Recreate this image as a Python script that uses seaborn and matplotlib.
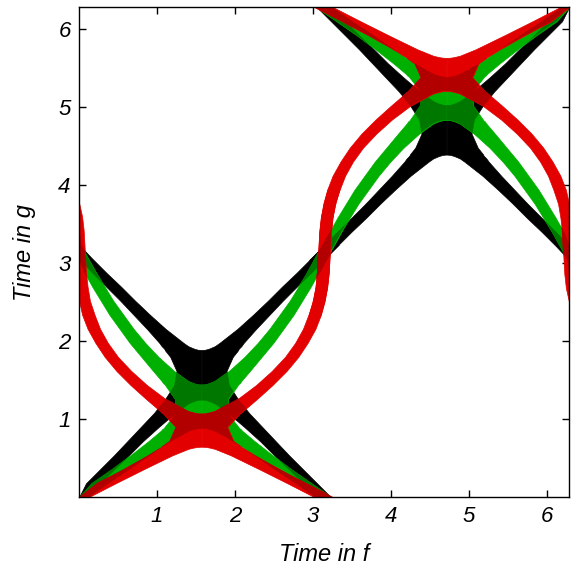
import numpy as np
import matplotlib
matplotlib.use('Agg')
import matplotlib.pyplot as plt
import seaborn as sns

# the other three quarters are mirror images of it
black_t = [0, 0.18, 0.36, 0.54, 0.72, 0.9, 1.08, 1.204, 1.234, 1.249, 1.254, 1.44, 1.62, 1.8, 1.888, 1.893, 1.908,
           1.938, 1.98, 2.16, 2.34, 2.52, 2.7, 2.88, 3.06, 3.24]
black_lo = [-0.09, 0.09, 0.27, 0.45, 0.62, 0.79, 0.96, 1.06, 1.09, 1.1, 1.1, 1.22, 1.25, 1.17, 1.1, 1.1, 1.09, 1.06,
            1.03, 0.87, 0.7, 0.53, 0.35, 0.17, -0.01, -0.19]
black_hi = [0.09, 0.27, 0.45, 0.64, 0.82, 1.02, 1.23, 1.4, 1.47, 1.52, 1.57, 1.57, 1.57, 1.57, 1.57, 1.52, 1.47, 1.4,
            1.34, 1.11, 0.91, 0.72, 0.54, 0.35, 0.17, -0.01]

green_t = [0, 0.18, 0.36, 0.54, 0.72, 0.854, 0.877, 0.889, 0.893, 1.08, 1.26, 1.444, 1.448, 1.462, 1.491, 1.62, 1.8,
           1.98, 2.16, 2.34, 2.52, 2.7, 2.88, 3.06, 3.24, 3.42]
green_lo = [-0.1, 0.16, 0.42, 0.66, 0.89, 1.05, 1.07, 1.09, 1.09, 1.24, 1.23, 1.1, 1.1, 1.08, 1.06, 0.95, 0.8, 0.65,
            0.52, 0.39, 0.28, 0.17, 0.07, -0.03, -0.13, -0.23]
green_hi = [0.1, 0.36, 0.63, 0.89, 1.16, 1.4, 1.47, 1.52, 1.57, 1.57, 1.57, 1.57, 1.52, 1.47, 1.4, 1.22, 1.02, 0.85,
            0.7, 0.57, 0.44, 0.33, 0.22, 0.12, 0.02, -0.08]

red_t = [0, 0.18, 0.36, 0.54, 0.621, 0.638, 0.646, 0.649, 0.72, 0.9, 1.072, 1.075, 1.086, 1.106, 1.26, 1.44, 1.62,
         1.8, 1.98, 2.16, 2.34, 2.52, 2.7, 2.88, 3.06, 3.24, 3.42, 3.6, 3.78, 3.96]
red_lo = [-0.12, 0.23, 0.57, 0.89, 1.02, 1.05, 1.06, 1.06, 1.16, 1.24, 1.08, 1.08, 1.06, 1.04, 0.86, 0.66, 0.48,
          0.33, 0.21, 0.11, 0.04, -0.01, -0.04, -0.06, -0.07, -0.08, -0.09, -0.11, -0.15, -0.2]
red_hi = [0.12, 0.47, 0.83, 1.2, 1.4, 1.47, 1.52, 1.57, 1.57, 1.57, 1.57, 1.52, 1.47, 1.4, 1.11, 0.87, 0.67, 0.5,
          0.37, 0.27, 0.2, 0.14, 0.11, 0.09, 0.08, 0.07, 0.06, 0.04, 0, -0.05]

ticks = [1, 2, 3, 4, 5, 6]

sns.set_style('ticks', {'axes.edgecolor': 'black', 'xtick.color': 'black', 'ytick.color': 'black',
                        'text.color': 'black', 'axes.labelcolor': 'black',
                        'xtick.direction': 'in', 'ytick.direction': 'in'})
plt.rcParams['font.family'] = ['Liberation Sans', 'DejaVu Sans']
plt.rcParams['font.style'] = 'italic'

fig = plt.figure(figsize=(5.75, 5.67), dpi=100)
ax = fig.add_axes([79 / 575, 69.7 / 567, 490 / 575, 490 / 567])

# (edges, colour, colour where it lies over an earlier band)
bands = [((black_t, black_lo, black_hi), '#000000', '#000000'),
         ((green_t, green_lo, green_hi), '#00b000', '#007800'),
         ((red_t, red_lo, red_hi), '#e20000', '#b20000')]

P = np.pi
def pieces(t, lo, hi):
    t, lo, hi = np.asarray(t), np.asarray(lo), np.asarray(hi)
    quarters = [(t, lo, hi), (t, P - hi, P - lo),
                (2 * P - t, lo + P, hi + P), (2 * P - t, 2 * P - hi, 2 * P - lo)]
    return [(tt, np.clip(a, 0, 2 * P), np.clip(b, 0, 2 * P)) for tt, a, b in quarters]

below = []
for edges, col, dark in bands:
    mine = pieces(*edges)
    clips = []
    for tt, a, b in mine:
        pc = ax.fill_betweenx(tt, a, b, color=col, ec=col, lw=0.5)
        clips.append(pc.get_paths()[0])
    # overlaps come out darker
    for tt, a, b in below:
        for cp in clips:
            pc = ax.fill_betweenx(tt, a, b, color=dark, ec=dark, lw=0.5)
            pc.set_clip_path(cp, ax.transData)
            pc.set_clip_box(ax.bbox)
    below += mine

ax.set_xlim(0, 2 * P)
ax.set_ylim(0, 2 * P)
ax.set_xticks(ticks)
ax.set_yticks(ticks)
ax.tick_params(top=True, right=True, length=5, width=1, labelsize=16, pad=6)
for s in ax.spines.values():
    s.set_linewidth(1)
ax.set_xlabel('Time in f', fontsize=17, labelpad=11.5)
ax.set_ylabel('Time in g', fontsize=17, labelpad=16)
fig.savefig('out.png', dpi=100)
